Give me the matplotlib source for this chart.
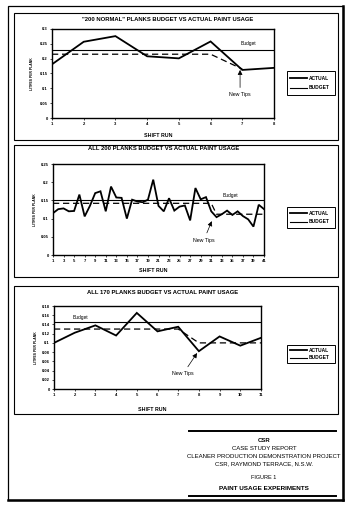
import matplotlib
matplotlib.use("Agg")
import matplotlib.pyplot as plt
from matplotlib.lines import Line2D
from matplotlib.patches import Rectangle
from matplotlib.ticker import FuncFormatter

plt.rcParams['font.family'] = ['Liberation Sans', 'DejaVu Sans']

# ---------------- data ----------------
titles = ['"200 NORMAL" PLANKS BUDGET VS ACTUAL PAINT USAGE',
          'ALL 200 PLANKS BUDGET VS ACTUAL PAINT USAGE',
          'ALL 170 PLANKS BUDGET VS ACTUAL PAINT USAGE']

runs1 = [1, 2, 3, 4, 5, 6, 7, 8]
actual1 = [0.181, 0.257, 0.276, 0.208, 0.201, 0.258, 0.162, 0.169]
budget1 = 0.23
target1_x = [1, 2, 3, 4, 5, 6, 7]
target1 = [0.215, 0.215, 0.215, 0.215, 0.215, 0.215, 0.165]

runs2 = list(range(1, 42))
actual2 = [0.115, 0.126, 0.128, 0.120, 0.121, 0.166, 0.106, 0.135, 0.170, 0.175,
           0.120, 0.188, 0.158, 0.157, 0.100, 0.152, 0.147, 0.145, 0.152, 0.207,
           0.135, 0.120, 0.156, 0.122, 0.133, 0.136, 0.095, 0.184, 0.153, 0.159,
           0.120, 0.104, 0.112, 0.122, 0.110, 0.120, 0.107, 0.098, 0.078, 0.138,
           0.126]
budget2 = 0.15
target2_x = list(range(1, 42))
target2 = [0.142] * 31 + [0.112] * 10

runs3 = list(range(1, 12))
actual3 = [0.100, 0.122, 0.138, 0.116, 0.165, 0.125, 0.135, 0.082, 0.114, 0.094, 0.111]
budget3 = 0.146
target3_x = list(range(1, 12))
target3 = [0.13, 0.13, 0.13, 0.13, 0.13, 0.13, 0.13, 0.10, 0.10, 0.10, 0.10]

yticks1 = [0, 0.05, 0.1, 0.15, 0.2, 0.25, 0.3]
yticks2 = [0, 0.05, 0.1, 0.15, 0.2, 0.25]
yticks3 = [0, 0.02, 0.04, 0.06, 0.08, 0.1, 0.12, 0.14, 0.16, 0.18]
xticks1 = runs1
xticks2 = list(range(1, 42, 2))
xticks3 = runs3

caption_lines = ['CSR', 'CASE STUDY REPORT', 'CLEANER PRODUCTION DEMONSTRATION PROJECT',
                 'CSR, RAYMOND TERRACE, N.S.W.', 'FIGURE 1', 'PAINT USAGE EXPERIMENTS']

# ---------------- layout helpers ----------------
W, H = 350, 511
fig = plt.figure(figsize=(W / 100, H / 100), dpi=100)
fig.patch.set_facecolor('white')


def rect(l, t, r, b):
    return [l / W, 1 - b / H, (r - l) / W, (b - t) / H]


def fx(x):
    return x / W


def fy(y):
    return 1 - y / H


# page frame
fig.add_artist(Rectangle((fx(8), fy(500)), fx(343) - fx(8), fy(6) - fy(500),
                         transform=fig.transFigure, fill=False, lw=0.9, ec='black'))
fig.add_artist(Line2D([fx(343), fx(343)], [fy(500), fy(6)], transform=fig.transFigure,
                      lw=1.8, color='black'))
fig.add_artist(Line2D([fx(8), fx(343)], [fy(500), fy(500)], transform=fig.transFigure,
                      lw=1.8, color='black'))

panels = [
    dict(box=(14, 13, 338, 140), ax=(52, 29, 274, 118), title_y=19, xlab_y=135,
         ylab_x=32, leg=(287, 71, 335, 95),
         runs=runs1, actual=actual1, budget=budget1, tx=target1_x, tv=target1,
         ylim=0.3, yticks=yticks1, xticks=xticks1,
         tip=(6.93, 0.162), txt=(6.93, 0.078), blab=(7.2, 0.244)),
    dict(box=(14, 145, 338, 277), ax=(53, 164, 264, 255), title_y=149, xlab_y=270,
         ylab_x=35, leg=(287, 207, 335, 228),
         runs=runs2, actual=actual2, budget=budget2, tx=target2_x, tv=target2,
         ylim=0.25, yticks=yticks2, xticks=xticks2,
         tip=(31.1, 0.093), txt=(29.6, 0.041), blab=(34.7, 0.157)),
    dict(box=(14, 286, 338, 414), ax=(54, 306, 261, 389), title_y=292, xlab_y=409,
         ylab_x=36, leg=(287, 345, 335, 363),
         runs=runs3, actual=actual3, budget=budget3, tx=target3_x, tv=target3,
         ylim=0.18, yticks=yticks3, xticks=xticks3,
         tip=(7.91, 0.078), txt=(7.24, 0.033), blab=(2.3, 0.149)),
]

for p, title in zip(panels, titles):
    l, t, r, b = p['box']
    fig.add_artist(Rectangle((fx(l), fy(b)), fx(r) - fx(l), fy(t) - fy(b),
                             transform=fig.transFigure, fill=False, lw=0.8, ec='black'))
    ax = fig.add_axes(rect(*p['ax']))
    runs = p['runs']
    ax.plot(runs, p['actual'], color='black', lw=1.3, solid_joinstyle='miter')
    ax.plot([runs[0], runs[-1]], [p['budget'], p['budget']], color='black', lw=0.8)
    ax.plot(p['tx'], p['tv'], color='black', lw=0.9, dashes=(5, 3))
    ax.set_xlim(runs[0], runs[-1])
    ax.set_ylim(0, p['ylim'])
    ax.set_xticks(p['xticks'])
    ax.set_yticks(p['yticks'])
    ax.yaxis.set_major_formatter(FuncFormatter(lambda v, pos: '%g' % v))
    ax.tick_params(labelsize=3, length=1.5, width=0.5, pad=1.5)
    for lab in ax.get_xticklabels() + ax.get_yticklabels():
        lab.set_fontweight('bold')
    for s in ax.spines.values():
        s.set_linewidth(1.0)
    ax.text(p['blab'][0], p['blab'][1], 'Budget', fontsize=3.5, ha='center', va='bottom')
    ax.annotate('New Tips', xy=p['tip'], xytext=p['txt'], fontsize=3.8, ha='center',
                va='center',
                arrowprops=dict(arrowstyle='-|>', color='black', lw=0.5,
                                mutation_scale=7, shrinkA=1.5, shrinkB=0))
    al, at, ar, ab = p['ax']
    fig.text(fx((al + ar) / 2 + 5), fy(p['title_y']), title, fontsize=4.2,
             fontweight='bold', ha='center', va='center')
    fig.text(fx((al + ar) / 2 - 5), fy(p['xlab_y']), 'SHIFT RUN', fontsize=3.8,
             fontweight='bold', ha='center', va='center')
    fig.text(fx(p['ylab_x']), fy((at + ab) / 2), 'LITRES PER PLANK', fontsize=2.4,
             fontweight='bold', rotation=90, ha='center', va='center')
    # legend
    ll, lt, lr, lb = p['leg']
    fig.add_artist(Rectangle((fx(ll), fy(lb)), fx(lr) - fx(ll), fy(lt) - fy(lb),
                             transform=fig.transFigure, fill=False, lw=0.7, ec='black'))
    y1 = lt + (lb - lt) * 0.3
    y2 = lt + (lb - lt) * 0.7
    fig.add_artist(Line2D([fx(ll + 3), fx(ll + 20)], [fy(y1), fy(y1)],
                          transform=fig.transFigure, lw=1.3, color='black'))
    fig.add_artist(Line2D([fx(ll + 3), fx(ll + 20)], [fy(y2), fy(y2)],
                          transform=fig.transFigure, lw=0.8, color='black'))
    fig.text(fx(ll + 22), fy(y1), 'ACTUAL', fontsize=3.5, fontweight='bold',
             ha='left', va='center')
    fig.text(fx(ll + 22), fy(y2), 'BUDGET', fontsize=3.5, fontweight='bold',
             ha='left', va='center')

# caption block
fig.add_artist(Line2D([fx(189), fx(336)], [fy(431), fy(431)], transform=fig.transFigure,
                      lw=1.4, color='black'))
fig.add_artist(Line2D([fx(189), fx(336)], [fy(496), fy(496)], transform=fig.transFigure,
                      lw=1.4, color='black'))
cap_y = [440, 448, 456, 464, 477, 488]
cap_w = ['bold', 'normal', 'normal', 'normal', 'normal', 'bold']
cap_s = [4.3, 4.3, 4.3, 4.3, 4.0, 4.6]
for txt, yy, w, s in zip(caption_lines, cap_y, cap_w, cap_s):
    fig.text(fx(264), fy(yy), txt, fontsize=s, fontweight=w, ha='center', va='center')

fig.savefig('out.png', dpi=100, facecolor='white')
